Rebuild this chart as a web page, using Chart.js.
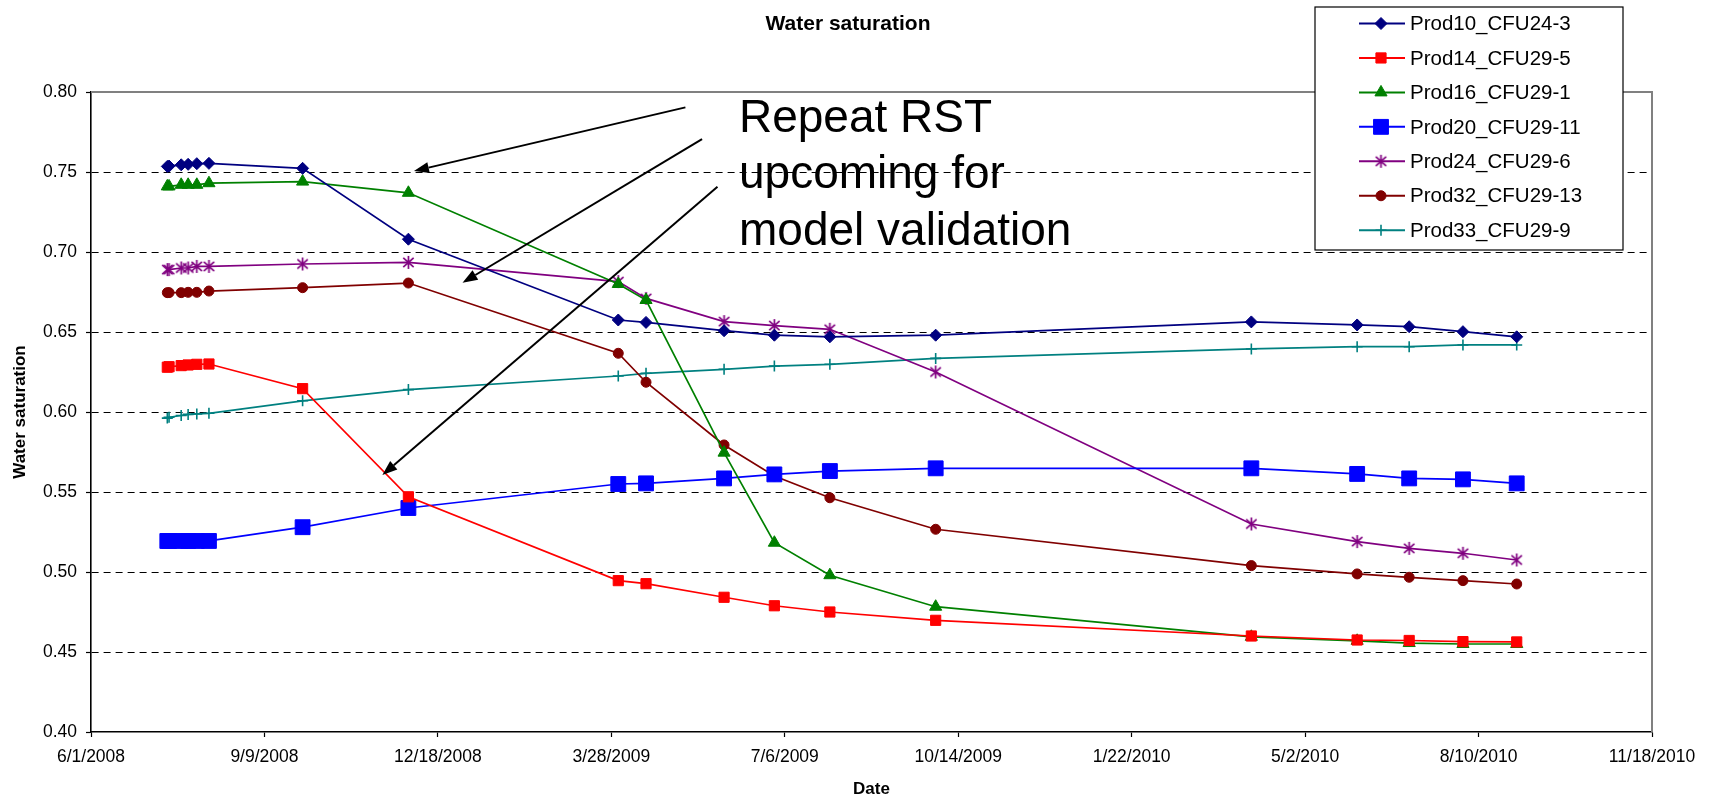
<!DOCTYPE html>
<html>
<head>
<meta charset="utf-8">
<script src="https://cdn.jsdelivr.net/npm/chart.js@4.4.1/dist/chart.umd.min.js"></script>
<style>
  html, body { margin: 0; padding: 0; background: #fff; }
  #wrap { width: 1713px; height: 800px; }
</style>
</head>
<body>
<div id="wrap"><canvas id="chart"></canvas></div>
<script>
// sample dates (RST logs)
const dates = [
  '2008-07-15', '2008-07-16', '2008-07-23', '2008-07-27', '2008-08-01', '2008-08-08',
  '2008-10-01', '2008-12-01', '2009-04-01', '2009-04-17', '2009-06-01', '2009-06-30',
  '2009-08-01', '2009-10-01', '2010-04-01', '2010-06-01', '2010-07-01', '2010-08-01', '2010-09-01'
];

const prod10 = [0.7535, 0.7537, 0.7545, 0.7548, 0.7552, 0.7554, 0.7523, 0.708, 0.6575, 0.656,
  0.6508, 0.648, 0.647, 0.648, 0.6563, 0.6544, 0.6533, 0.6502, 0.647];
const prod14 = [0.628, 0.6283, 0.629, 0.6294, 0.6298, 0.6300, 0.6146, 0.547, 0.4946, 0.4927,
  0.4842, 0.4789, 0.475, 0.4698, 0.460, 0.4575, 0.4572, 0.4565, 0.4563];
const prod16 = [0.741, 0.741, 0.742, 0.742, 0.742, 0.743, 0.744, 0.737, 0.680, 0.670,
  0.5746, 0.5183, 0.498, 0.4783, 0.4595, 0.457, 0.4556, 0.455, 0.455];
const prod20 = [0.5194, 0.5194, 0.5194, 0.5194, 0.5194, 0.5194, 0.528, 0.540, 0.555, 0.5554,
  0.5585, 0.561, 0.5631, 0.5648, 0.5648, 0.5613, 0.5585, 0.5579, 0.5554];
const prod24 = [0.689, 0.689, 0.690, 0.690, 0.691, 0.691, 0.6925, 0.6935, 0.6815, 0.671,
  0.6565, 0.654, 0.6517, 0.625, 0.530, 0.519, 0.5148, 0.5117, 0.5075];
const prod32 = [0.6746, 0.6746, 0.6746, 0.6748, 0.6748, 0.6756, 0.6777, 0.6806, 0.6367, 0.6186,
  0.5794, 0.560, 0.5464, 0.5267, 0.504, 0.4988, 0.4967, 0.4946, 0.4925];
const prod33 = [0.5962, 0.5967, 0.5978, 0.5985, 0.5988, 0.5992, 0.607, 0.614, 0.6225, 0.6242,
  0.6267, 0.6287, 0.6298, 0.6335, 0.6394, 0.6408, 0.6408, 0.6419, 0.6419];

const seriesNames = ['Prod10_CFU24-3', 'Prod14_CFU29-5', 'Prod16_CFU29-1', 'Prod20_CFU29-11',
  'Prod24_CFU29-6', 'Prod32_CFU29-13', 'Prod33_CFU29-9'];

const xTickLabels = ['6/1/2008', '9/9/2008', '12/18/2008', '3/28/2009', '7/6/2009',
  '10/14/2009', '1/22/2010', '5/2/2010', '8/10/2010', '11/18/2010'];
const yTickMin = 0.40, yTickMax = 0.80, yTickStep = 0.05;

const noteLines = ['Repeat RST', 'upcoming for', 'model validation'];

// ---- helpers ----
const DAY = 86400000;
const origin = Date.UTC(2008, 5, 1);
function dayOf(s) {
  let p, y, m, d;
  if (s.indexOf('-') > 0) { p = s.split('-'); y = +p[0]; m = +p[1]; d = +p[2]; }
  else { p = s.split('/'); m = +p[0]; d = +p[1]; y = +p[2]; }
  return (Date.UTC(y, m - 1, d) - origin) / DAY;
}
function pts(vals) { return vals.map((v, i) => ({ x: dayOf(dates[i]), y: v })); }

function asterisk(color, size) {
  const c = document.createElement('canvas');
  c.width = size; c.height = size;
  const g = c.getContext('2d');
  g.strokeStyle = color; g.lineWidth = 1.7;
  const m = size / 2, r = size / 2 - 1;
  g.beginPath();
  g.moveTo(m, m - r); g.lineTo(m, m + r);
  g.moveTo(m - r * 0.8, m - r * 0.7); g.lineTo(m + r * 0.8, m + r * 0.7);
  g.moveTo(m - r * 0.8, m + r * 0.7); g.lineTo(m + r * 0.8, m - r * 0.7);
  g.stroke();
  return c;
}

const FONT = "'Liberation Sans', Arial, sans-serif";

function series(label, vals, color, style, radius) {
  return {
    label: label,
    data: pts(vals),
    borderColor: color,
    backgroundColor: color,
    borderWidth: 1.7,
    pointStyle: style,
    pointRadius: radius,
    pointHoverRadius: radius,
    pointBorderWidth: style === 'cross' ? 1.6 : 1,
    pointBorderColor: color,
    pointBackgroundColor: color,
    tension: 0
  };
}

const datasets = [
  series(seriesNames[0], prod10, '#000080', 'rectRot', 6),
  series(seriesNames[1], prod14, '#FF0000', 'rect', 7.2),
  series(seriesNames[2], prod16, '#008000', 'triangle', 7),
  series(seriesNames[3], prod20, '#0000FF', 'rect', 10.5),
  series(seriesNames[4], prod24, '#800080', asterisk('#800080', 15), 7),
  series(seriesNames[5], prod32, '#800000', 'circle', 5),
  series(seriesNames[6], prod33, '#008080', 'cross', 5.5)
];

// annotation arrows, in axis units (days from 6/1/2008, saturation)
const arrowFrom = [[342.7, 0.7904], [352.3, 0.7706], [361.2, 0.7408]];
const arrowTo = [[186.2, 0.7506], [214.2, 0.6808], [168.0, 0.5606]];
const noteAnchor = [373.6, 0.7752];

const frame = {
  id: 'frame',
  beforeDatasetsDraw(chart) {
    const { ctx, chartArea: a } = chart;
    ctx.save();
    ctx.strokeStyle = '#808080';
    ctx.lineWidth = 2;
    ctx.beginPath();
    ctx.moveTo(a.left, a.top);
    ctx.lineTo(a.right, a.top);
    ctx.lineTo(a.right, a.bottom);
    ctx.stroke();
    ctx.restore();
  },
  afterDatasetsDraw(chart) {
    const { ctx, scales: { x, y } } = chart;
    ctx.save();
    // arrows
    ctx.strokeStyle = '#000';
    ctx.fillStyle = '#000';
    ctx.lineWidth = 2;
    arrowFrom.forEach((f, i) => {
      const x0 = x.getPixelForValue(f[0]), y0 = y.getPixelForValue(f[1]);
      const x1 = x.getPixelForValue(arrowTo[i][0]), y1 = y.getPixelForValue(arrowTo[i][1]);
      const ang = Math.atan2(y1 - y0, x1 - x0);
      const hl = 15, hw = 5.5;
      const bx = x1 - Math.cos(ang) * hl, by = y1 - Math.sin(ang) * hl;
      ctx.beginPath();
      ctx.moveTo(x0, y0);
      ctx.lineTo(bx, by);
      ctx.stroke();
      ctx.beginPath();
      ctx.moveTo(x1, y1);
      ctx.lineTo(bx + Math.sin(ang) * hw, by - Math.cos(ang) * hw);
      ctx.lineTo(bx - Math.sin(ang) * hw, by + Math.cos(ang) * hw);
      ctx.closePath();
      ctx.fill();
    });
    // note text
    ctx.font = '46px ' + FONT;
    ctx.textAlign = 'left';
    ctx.textBaseline = 'alphabetic';
    const tx = x.getPixelForValue(noteAnchor[0]), ty = y.getPixelForValue(noteAnchor[1]);
    noteLines.forEach((t, i) => ctx.fillText(t, tx, ty + i * 56.7));
    ctx.restore();
  },
  afterDraw(chart) {
    const ctx = chart.ctx;
    ctx.save();
    // chart title
    ctx.font = 'bold 21px ' + FONT;
    ctx.fillStyle = '#000';
    ctx.textAlign = 'center';
    ctx.textBaseline = 'alphabetic';
    ctx.fillText('Water saturation', 848, 30);

    // legend box
    const lx = 1315, ly = 7, lw = 308, lh = 243;
    ctx.fillStyle = '#fff';
    ctx.fillRect(lx, ly, lw, lh);
    ctx.strokeStyle = '#000';
    ctx.lineWidth = 1.2;
    ctx.strokeRect(lx, ly, lw, lh);
    ctx.font = '20.5px ' + FONT;
    ctx.textAlign = 'left';
    ctx.textBaseline = 'middle';
    chart.data.datasets.forEach((ds, i) => {
      const yy = 23.5 + i * 34.45;
      ctx.strokeStyle = ds.borderColor;
      ctx.lineWidth = 2;
      ctx.beginPath();
      ctx.moveTo(1359, yy);
      ctx.lineTo(1405, yy);
      ctx.stroke();
      ctx.fillStyle = ds.backgroundColor;
      ctx.strokeStyle = ds.borderColor;
      ctx.lineWidth = ds.pointBorderWidth;
      Chart.helpers.drawPoint(ctx, {
        pointStyle: ds.pointStyle, radius: ds.pointRadius, rotation: 0,
        borderWidth: ds.pointBorderWidth
      }, 1381, yy);
      ctx.fillStyle = '#000';
      ctx.fillText(ds.label, 1410, yy + 1);
    });
    ctx.restore();
  }
};

new Chart(document.getElementById('chart'), {
  type: 'line',
  data: { datasets: datasets },
  plugins: [frame],
  options: {
    responsive: true,
    maintainAspectRatio: false,
    animation: false,
    layout: { padding: { top: 92, right: 61, left: 0, bottom: 0 } },
    plugins: {
      legend: { display: false },
      title: { display: false },
      tooltip: { enabled: false }
    },
    scales: {
      x: {
        type: 'linear',
        min: dayOf(xTickLabels[0]),
        max: dayOf(xTickLabels[xTickLabels.length - 1]),
        afterFit: (s) => { s.height = 68; },
        ticks: {
          stepSize: 100,
          autoSkip: false,
          maxRotation: 0,
          padding: 10,
          color: '#000',
          font: { family: FONT, size: 17.5 },
          callback: (v, i) => xTickLabels[i]
        },
        grid: {
          drawOnChartArea: false,
          drawTicks: true,
          tickLength: 5,
          tickColor: '#000',
          tickWidth: 1.2
        },
        border: { display: true, color: '#000', width: 1.6 },
        title: {
          display: true,
          text: 'Date',
          color: '#000',
          font: { family: FONT, size: 17, weight: 'bold' },
          padding: { top: 0, bottom: 0 }
        }
      },
      y: {
        type: 'linear',
        min: yTickMin,
        max: yTickMax,
        afterFit: (s) => { s.width = 91; },
        ticks: {
          stepSize: yTickStep,
          padding: 9,
          color: '#000',
          font: { family: FONT, size: 17.5 },
          callback: (v) => v.toFixed(2)
        },
        grid: {
          color: (c) => (c.tick && (c.tick.value > yTickMax - 0.001 || c.tick.value < yTickMin + 0.001)) ? 'rgba(0,0,0,0)' : '#000',
          lineWidth: 1,
          tickLength: 5,
          tickColor: '#000',
          tickWidth: 1.2,
          tickBorderDash: []
        },
        border: { display: true, color: '#000', width: 1.6, dash: [7, 5] },
        title: {
          display: true,
          text: 'Water saturation',
          color: '#000',
          font: { family: FONT, size: 17, weight: 'bold' },
          padding: { top: 10, bottom: 0 }
        }
      }
    }
  }
});
</script>
</body>
</html>
